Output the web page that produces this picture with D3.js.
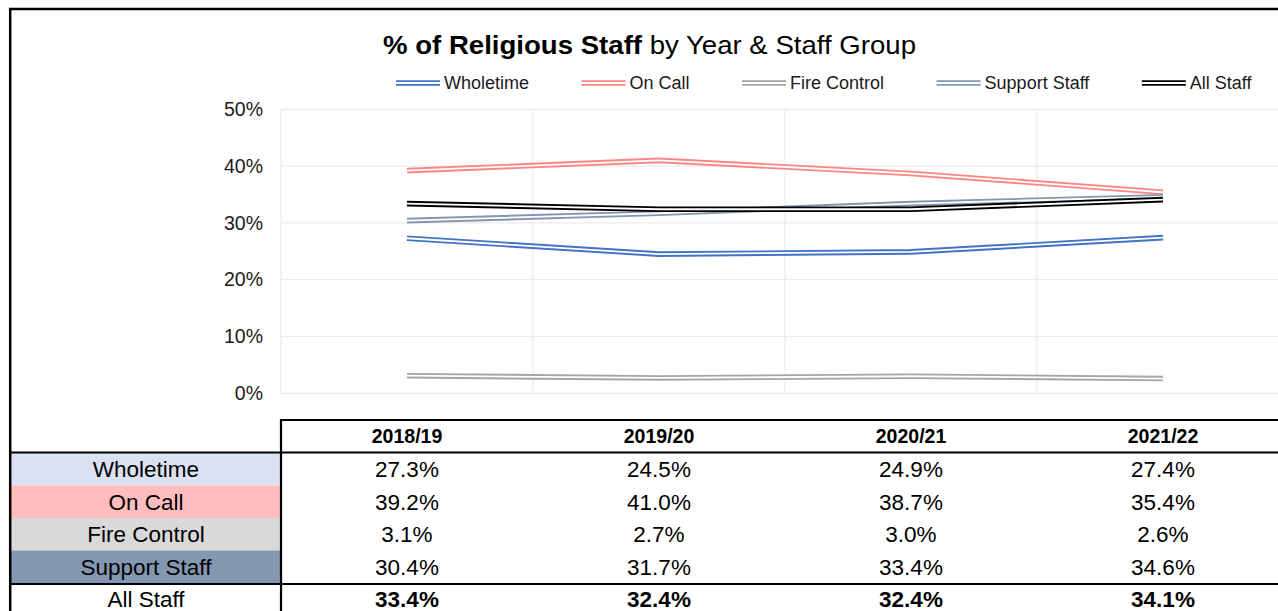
<!DOCTYPE html>
<html><head><meta charset="utf-8">
<script src="https://cdn.jsdelivr.net/npm/d3@7"></script>
<style>
html,body{margin:0;padding:0;background:#fff;}
svg{display:block;font-family:"Liberation Sans",Arial,sans-serif;}
</style></head>
<body>
<svg id="chart" width="1278" height="611"></svg>
<script>
// ---- data ----
const years = ["2018/19", "2019/20", "2020/21", "2021/22"];
const groups = ["Wholetime", "On Call", "Fire Control", "Support Staff", "All Staff"];
const wholetime = [27.3, 24.5, 24.9, 27.4];
const onCall = [39.2, 41.0, 38.7, 35.4];
const fireControl = [3.1, 2.7, 3.0, 2.6];
const supportStaff = [30.4, 31.7, 33.4, 34.6];
const allStaff = [33.4, 32.4, 32.4, 34.1];
const yTicks = [0, 10, 20, 30, 40, 50];

const seriesValues = [wholetime, onCall, fireControl, supportStaff, allStaff];
const lineColors = ["#4472C4", "#FF8585", "#A5A5A5", "#8497B0", "#000000"];
const cellColors = ["#D9E1F2", "#FFBDBD", "#D9D9D9", "#8497B0", "#FFFFFF"];

const svg = d3.select("#chart");
const W = 1278, H = 611;

// ---- scales ----
const x = d3.scaleBand().domain(years).range([281, 1289]).paddingInner(0).paddingOuter(0);
const y = d3.scaleLinear().domain([0, 50]).range([393.3, 109.3]);
const cx = d => x(d) + x.bandwidth() / 2;

// ---- gridlines ----
const grid = svg.append("g");
grid.selectAll("line.h").data(yTicks).join("line")
  .attr("x1", 281).attr("x2", W).attr("y1", d => y(d)).attr("y2", d => y(d))
  .attr("stroke", "#ebebeb").attr("stroke-width", 1.2);
grid.selectAll("line.v").data(years).join("line")
  .attr("x1", d => x(d)).attr("x2", d => x(d)).attr("y1", y(50)).attr("y2", y(0))
  .attr("stroke", "#ebebeb").attr("stroke-width", 1.2);

// y tick labels
const yAxis = d3.axisLeft(y).tickValues(yTicks).tickFormat(d => d + "%").tickSize(0).tickPadding(18);
const ya = svg.append("g").attr("transform", "translate(281,0)").call(yAxis);
ya.select(".domain").remove();
ya.selectAll("text").attr("font-size", 19.5).attr("fill", "#1a1a1a")
  .attr("font-family", "'Liberation Sans',Arial,sans-serif");

// ---- lines (double / compound style) ----
const line = d3.line().x((d, i) => cx(years[i])).y(d => y(d));
const lg = svg.append("g");
seriesValues.forEach((vals, si) => {
  lg.append("path").attr("d", line(vals)).attr("fill", "none")
    .attr("stroke", lineColors[si]).attr("stroke-width", 5.6).attr("stroke-linejoin", "round");
  lg.append("path").attr("d", line(vals)).attr("fill", "none")
    .attr("stroke", "#fff").attr("stroke-width", 1.8).attr("stroke-linejoin", "round");
});

// ---- title ----
const title = svg.append("text").attr("x", 649.5).attr("y", 54).attr("text-anchor", "middle")
  .attr("font-size", 26).attr("fill", "#000");
title.append("tspan").attr("font-weight", "bold").text("% of Religious Staff");
title.append("tspan").text(" by Year & Staff Group");
title.attr("textLength", 533).attr("lengthAdjust", "spacingAndGlyphs");

// ---- legend ----
const leg = svg.append("g");
let lx = 396;
groups.forEach((g, i) => {
  const it = leg.append("g");
  it.append("line").attr("x1", lx).attr("x2", lx + 44).attr("y1", 83).attr("y2", 83)
    .attr("stroke", lineColors[i]).attr("stroke-width", 5.6);
  it.append("line").attr("x1", lx).attr("x2", lx + 44).attr("y1", 83).attr("y2", 83)
    .attr("stroke", "#fff").attr("stroke-width", 1.8);
  const t = it.append("text").attr("x", lx + 48).attr("y", 83).attr("dy", "0.36em")
    .attr("font-size", 18).attr("fill", "#1a1a1a").text(g);
  lx += 48 + t.node().getComputedTextLength() + 52.5;
});

// ---- table ----
const rowTop = 453, rowH = 32.5;
const rowY = i => rowTop + i * rowH + rowH / 2 + (i === 4 ? -0.5 : 0);
const tb = svg.append("g");
// label cells
tb.selectAll("rect.cell").data(groups).join("rect")
  .attr("x", 11).attr("width", 270)
  .attr("y", (d, i) => rowTop + i * rowH + (i === 4 ? 1 : 0)).attr("height", rowH)
  .attr("fill", (d, i) => cellColors[i]);
// header
tb.selectAll("text.hdr").data(years).join("text")
  .attr("x", d => cx(d)).attr("y", 436).attr("dy", "0.36em").attr("text-anchor", "middle")
  .attr("font-size", 19.5).attr("font-weight", "bold").attr("fill", "#000").text(d => d);
// row labels
tb.selectAll("text.rl").data(groups).join("text")
  .attr("x", 146).attr("y", (d, i) => rowY(i)).attr("dy", "0.36em")
  .attr("text-anchor", "middle").attr("font-size", 22.5).attr("fill", "#000").text(d => d);
// values
seriesValues.forEach((vals, si) => {
  tb.append("g").selectAll("text").data(vals).join("text")
    .attr("x", (d, i) => cx(years[i]))
    .attr("y", rowY(si)).attr("dy", "0.36em")
    .attr("text-anchor", "middle").attr("font-size", 22.5)
    .attr("font-weight", si === 4 ? "bold" : "normal").attr("fill", "#000")
    .text(d => d.toFixed(1) + "%");
});
// table borders
const bl = (x1, y1, x2, y2) => tb.append("line").attr("x1", x1).attr("y1", y1).attr("x2", x2).attr("y2", y2)
  .attr("stroke", "#000").attr("stroke-width", 2.2);
bl(281, 420, W, 420);
bl(281, 419, 281, H);
bl(10, 452.5, W, 452.5);
bl(10, 584, W, 584);

// outer frame
svg.append("line").attr("x1", 9).attr("x2", W).attr("y1", 9).attr("y2", 9).attr("stroke", "#000").attr("stroke-width", 2.5);
svg.append("line").attr("x1", 10.2).attr("x2", 10.2).attr("y1", 8).attr("y2", H).attr("stroke", "#000").attr("stroke-width", 2.5);
</script>
</body></html>
